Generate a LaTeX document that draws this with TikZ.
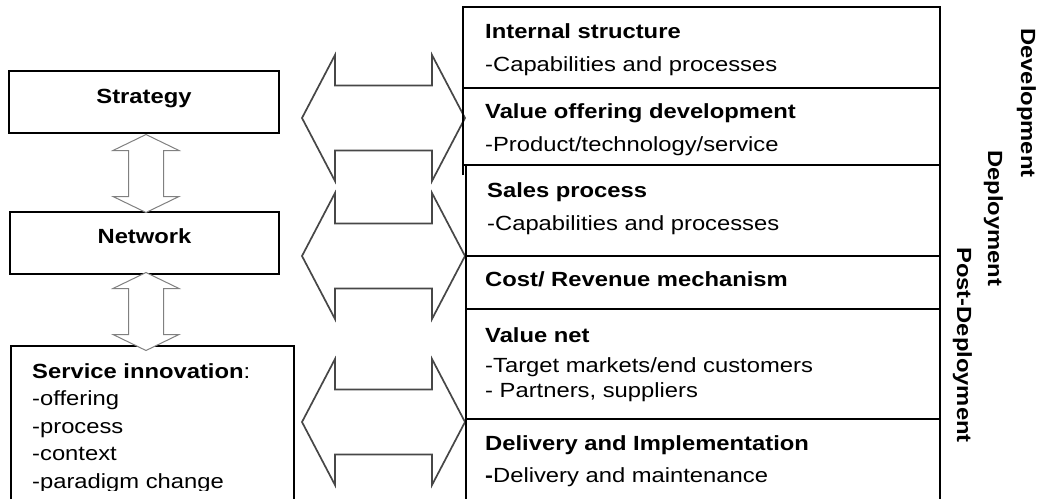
\documentclass[tikz,border=0pt]{standalone}
\usepackage{fontspec}
\setmainfont[FakeStretch=1.16]{Liberation Sans}
\begin{document}
\begin{tikzpicture}[x=1pt,y=-1pt,
  box/.style={draw=black, line width=1.8pt, inner sep=0pt},
  rl/.style={draw=black, line width=1.8pt},
  lbl/.style={inner sep=0pt, anchor=base west, font=\fontsize{20.5}{24}\selectfont},
  hd/.style={inner sep=0pt, anchor=base west, font=\fontsize{20.5}{24}\selectfont\bfseries},
  vlbl/.style={inner sep=0pt, anchor=base west, rotate=-90, font=\fontsize{20.5}{24}\selectfont\bfseries},
  harrowline/.style={draw=black!72, line width=1.7pt, fill=white, line join=miter},
  varrowline/.style={draw=black!50, line width=1pt, fill=white, line join=miter},
  hdarrow/.pic={\path[harrowline] (-81.5,0) -- (-48.5,-63) -- (-48.5,-32.5) -- (48.5,-32.5) -- (48.5,-63) -- (81.5,0) -- (48.5,63) -- (48.5,32.5) -- (-48.5,32.5) -- (-48.5,63) -- cycle;},
  vdarrow/.pic={\path[varrowline] (0,-39) -- (33,-23) -- (17.5,-23) -- (17.5,23) -- (33,23) -- (0,39) -- (-33,23) -- (-17.5,23) -- (-17.5,-23) -- (-33,-23) -- cycle;}
]
\useasboundingbox[fill=white] (0,0) rectangle (1044,499);

% left boxes
\node[box, minimum width=270, minimum height=62] (strat) at (144,102) {};
\node[hd, anchor=base] (stratT) at (144,103) {Strategy};
\node[box, minimum width=269, minimum height=62] (net) at (144.5,243) {};
\node[hd, anchor=base] (netT) at (144.5,243) {Network};
\coordinate (sibl) at (11,499);
\coordinate (sitl) at (11,346);
\coordinate (sitr) at (294,346);
\coordinate (sibr) at (294,499);
\draw[rl] (sibl) -- (sitl) -- (sitr) -- (sibr);
\begin{scope}
\clip (0,0) rectangle (1044,490);
\node[lbl] (si1) at (32,378) {\textbf{Service innovation}:};
\node[lbl] (si2) at (32,405.5) {-offering};
\node[lbl] (si3) at (32,433) {-process};
\node[lbl] (si4) at (32,460.5) {-context};
\node[lbl] (si5) at (32,488) {-paradigm change};
\end{scope}

% vertical double arrows
\pic at (146,173.5) {vdarrow};
\pic at (146,311.5) {vdarrow};

% horizontal double arrows
\pic at (383.5,118) {hdarrow};
\pic at (383.5,256) {hdarrow};
\pic at (383.5,422) {hdarrow};

% right column frame
\coordinate (c1) at (463,175);
\coordinate (c2) at (463,7);
\coordinate (c3) at (940,7);
\coordinate (c4) at (940,499);
\draw[rl] (c1) -- (c2) -- (c3) -- (c4);
\draw[rl] (463,88) -- (940,88);
\draw[rl] (463,165) -- (940,165);
\draw[rl] (466,165) -- (466,499);
\draw[rl] (466,256) -- (940,256);
\draw[rl] (466,309) -- (940,309);
\draw[rl] (466,419) -- (940,419);

% right column texts
\node[hd]  (r1a) at (485,38)  {Internal structure};
\node[lbl] (r1b) at (485,71)  {-Capabilities and processes};
\node[hd]  (r2a) at (485,118) {Value offering development};
\node[lbl] (r2b) at (485,151) {-Product/technology/service};
\node[hd]  (r3a) at (487,197) {Sales process};
\node[lbl] (r3b) at (487,230) {-Capabilities and processes};
\node[hd]  (r4a) at (485,286) {Cost/ Revenue mechanism};
\node[hd]  (r5a) at (485,342) {Value net};
\node[lbl] (r5b) at (485,372) {-Target markets/end customers};
\node[lbl] (r5c) at (485,397) {- Partners, suppliers};
\node[hd]  (r6a) at (485,450) {Delivery and Implementation};
\node[lbl] (r6b) at (485,482) {\textbf{-}Delivery and maintenance};

% phase labels
\node[vlbl] (ph1) at (1021,28)  {Development};
\node[vlbl] (ph2) at (988,150)  {Deployment};
\node[vlbl] (ph3) at (957,247)  {Post-Deployment};
\end{tikzpicture}
\end{document}
